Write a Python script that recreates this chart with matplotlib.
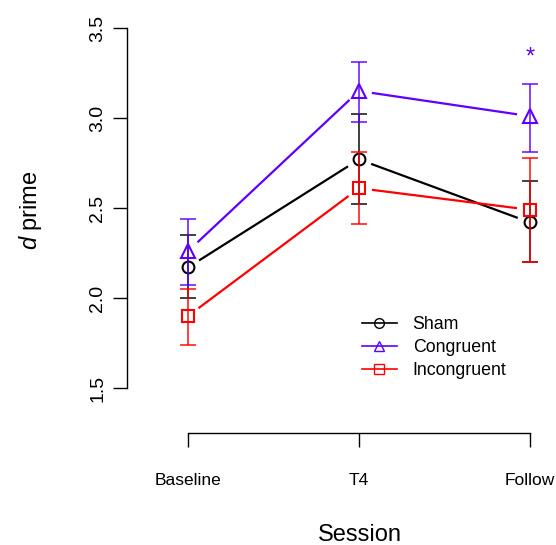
import matplotlib
matplotlib.use("Agg")
import matplotlib.pyplot as plt
import numpy as np
from matplotlib.lines import Line2D

plt.rcParams['font.family'] = ['Liberation Sans', 'DejaVu Sans']
plt.rcParams['mathtext.fontset'] = 'custom'
plt.rcParams['mathtext.it'] = 'Liberation Sans:italic'
plt.rcParams['mathtext.rm'] = 'Liberation Sans'

# data
sessions = ["Baseline", "T4", "Follow"]
sham_mean = [2.17, 2.77, 2.42]
sham_lo = [2.00, 2.52, 2.20]
sham_hi = [2.35, 3.02, 2.65]
cong_mean = [2.26, 3.15, 3.01]
cong_lo = [2.07, 2.98, 2.81]
cong_hi = [2.44, 3.31, 3.19]
incong_mean = [1.90, 2.61, 2.49]
incong_lo = [1.74, 2.41, 2.20]
incong_hi = [2.05, 2.81, 2.78]
star_session = 2
star_y = 3.30  # baseline of the asterisk

PURPLE = "#5F00FF"
groups = [
    ("Sham", sham_mean, sham_lo, sham_hi, "black", "o", 8.5),
    ("Congruent", cong_mean, cong_lo, cong_hi, PURPLE, "^", 10),
    ("Incongruent", incong_mean, incong_lo, incong_hi, "red", "s", 8.3),
]

W, H = 556, 545
fig = plt.figure(figsize=(W / 100, H / 100), dpi=100)
ax = fig.add_axes([127 / W, (H - 388) / H, (545 - 127) / W, 360 / H])
x = np.arange(1, len(sessions) + 1)
ax.set_xlim(0.643, 3.088)
ax.set_ylim(1.5, 3.5)

gap = 13  # pixels left blank around each point (R type="b")
for name, m, lo, hi, col, mk, ms in groups:
    m = np.array(m)
    ax.errorbar(x, m, yerr=[m - np.array(lo), np.array(hi) - m], fmt="none",
                ecolor=col, elinewidth=1.4, capsize=5.5, capthick=1.4, alpha=0.75)
    pts = ax.transData.transform(np.column_stack([x, m]))
    for i in range(len(pts) - 1):
        p0, p1 = pts[i], pts[i + 1]
        d = (p1 - p0) / np.hypot(*(p1 - p0))
        seg = ax.transData.inverted().transform([p0 + d * gap, p1 - d * gap])
        ax.plot(seg[:, 0], seg[:, 1], color=col, lw=1.6, solid_capstyle="butt")
    ax.plot(x, m, ls="none", marker=mk, ms=ms, mfc="none", mec=col, mew=1.5)

ax.text(x[star_session], star_y, "*", color=PURPLE, fontsize=17,
        ha="center", va="baseline")

for s in ["top", "right"]:
    ax.spines[s].set_visible(False)
ax.spines["bottom"].set_position(("outward", 32.4))
ax.spines["bottom"].set_bounds(1, 3)
ax.set_xticks(x)
ax.set_xticklabels(sessions, fontsize=12.5)
ax.set_yticks([1.5, 2.0, 2.5, 3.0, 3.5])
ax.set_yticklabels(["1.5", "2.0", "2.5", "3.0", "3.5"], rotation=90, va="center",
                   fontsize=14)
ax.tick_params(axis="both", direction="out", length=10, width=1)
ax.tick_params(axis="x", pad=19)
ax.tick_params(axis="y", pad=5)
for s in ["left", "bottom"]:
    ax.spines[s].set_linewidth(1)

fig.text(317 / W + 85 / 2 / W, 1 - 535 / H, "Session", fontsize=17,
         ha="center", va="center")
fig.text(30 / W, 1 - 210 / H, r"$d$ prime", fontsize=17, rotation=90,
         ha="center", va="center")

handles = [Line2D([], [], color=col, marker=mk, ms=7, mfc="none", mec=col, lw=1.2)
           for name, m, lo, hi, col, mk, ms in groups]
ax.legend(handles, [g[0] for g in groups], loc="upper left",
          bbox_to_anchor=(362 / W, 1 - 316 / H), bbox_transform=fig.transFigure,
          frameon=False, fontsize=12.8, handlelength=1.95, handletextpad=0.9,
          labelspacing=0.33, borderpad=0, borderaxespad=0)

fig.savefig("out.png", dpi=100)
